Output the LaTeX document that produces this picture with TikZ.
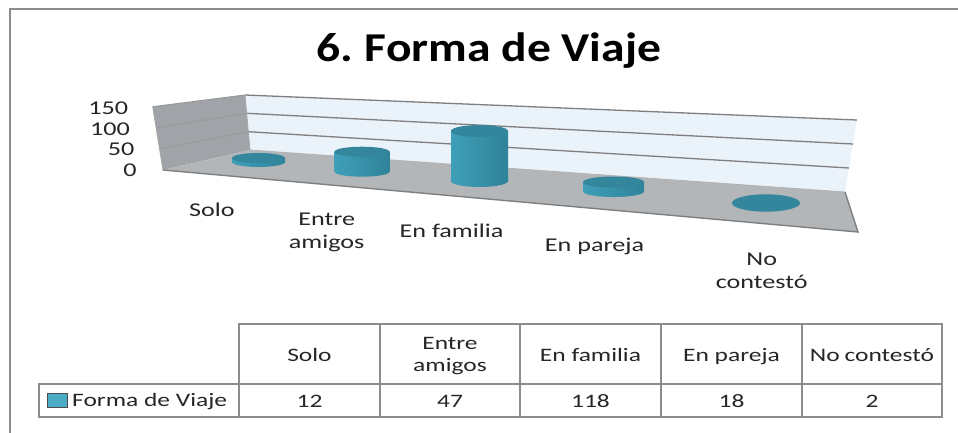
\documentclass[tikz,border=0pt]{standalone}
\usepackage{fontspec}
\setmainfont{Carlito}[FakeStretch=1.34]
\newfontfamily\titlefont{Carlito}[FakeStretch=1.16,BoldFont={Carlito Bold}]
\definecolor{frame}{HTML}{8C8C8C}
\definecolor{gridc}{HTML}{7F7F7F}
\definecolor{sidewall}{HTML}{A0A4A8}
\definecolor{floorc}{HTML}{B3B6B9}
\definecolor{backwall}{HTML}{EAF2FA}
\definecolor{cylleft}{HTML}{3F9FB8}
\definecolor{cyllight}{HTML}{6AD0E8}
\definecolor{cylright}{HTML}{2F8399}
\definecolor{cyltop}{HTML}{33869C}
\definecolor{legfill}{HTML}{4BACC6}
\newcommand\drawcyl[5]{% x, ytop, ybot, rx, ry
  \shade[left color=cylleft, middle color=cyllight, right color=cylright]
    (#1,#3) ellipse ({#4} and {#5});
  \shade[left color=cylleft, middle color=cyllight, right color=cylright]
    ({#1-#4},#2) rectangle ({#1+#4},#3);
  \fill[cyltop] (#1,#2) ellipse ({#4} and {#5});
}
\tikzset{
  lbl/.style={font=\fontsize{19.5}{22}\selectfont, text=black!85, inner sep=0pt, anchor=base, align=center},
  tick/.style={font=\fontsize{19.5}{22}\selectfont, text=black!85, inner sep=0pt, anchor=base east},
  cell/.style={font=\fontsize{19}{22}\selectfont, text=black!85, inner sep=0pt, anchor=base},
  tline/.style={draw=frame, line width=1.8pt},
}
\begin{document}
\begin{tikzpicture}[x=1pt,y=-1pt]
\useasboundingbox (0,0) rectangle (958,432);
\fill[white] (0,0) rectangle (958,432);
% outer frame
\draw[frame, line width=2pt] (10,440) -- (10,9) -- (962,9);
% title
\node[font=\titlefont\bfseries\fontsize{41}{44}\selectfont, anchor=base, inner sep=0pt] (title) at (489,61.7) {6.\hspace{-3pt} Forma de Viaje};
% walls
\fill[sidewall] (152.7,106.7) -- (245,95) -- (250,150) -- (163,170) -- cycle;
\fill[backwall] (245,95) -- (857,120) -- (845,192) -- (250,150) -- cycle;
\fill[floorc] (163,170) -- (250,150) -- (845,192) -- (858,232) -- cycle;
% gridlines
\draw[gridc, line width=1.3pt] (245,95) -- (857,120);
\draw[gridc, line width=1.3pt] (246.7,113.3) -- (853,144);
\draw[gridc, line width=1.3pt] (248.3,131.7) -- (849,168);
\draw[gridc!80, line width=1pt] (152.7,106.7) -- (245,95);
\draw[gridc!80, line width=1pt] (156.1,127.8) -- (246.7,113.3);
\draw[gridc!80, line width=1pt] (159.6,148.9) -- (248.3,131.7);
\draw[gridc!70, line width=0.8pt] (245,95) -- (250,150);
\draw[gridc!60, line width=0.8pt] (250,150) -- (845,192);
\draw[gridc!70, line width=0.8pt] (152.7,106.7) -- (163,170);
\draw[gridc, line width=1.4pt] (163,170) -- (858,232) -- (845,192);
% cylinders
\drawcyl{258.5}{158}{162}{26.5}{5}
\drawcyl{362}{151.7}{171.7}{27.5}{5}
\drawcyl{479.5}{131}{181}{28.5}{6}
\drawcyl{613.5}{182}{191.5}{30.5}{5.5}
\fill[cyltop] (766,203) ellipse (34 and 8.7);
% axis ticks
\node[tick] (t150) at (128.3,114.3) {150};
\node[tick] (t100) at (130,135) {100};
\node[tick] (t50) at (134.5,155.7) {50};
\node[tick] (t0) at (136.7,176.7) {0};
% category labels
\node[lbl] (c1) at (212,216.5) {Solo};
\node[lbl] (c2a) at (326.7,225.7) {Entre};
\node[lbl] (c2b) at (326.7,248.3) {amigos};
\node[lbl] (c3) at (451.5,237.3) {En familia};
\node[lbl] (c4) at (594.5,251.7) {En pareja};
\node[lbl] (c5a) at (761.7,265.7) {No};
\node[lbl] (c5b) at (761.7,288.3) {contestó};
% table
\draw[tline] (239,324) rectangle (942,417);
\draw[tline] (39,384) rectangle (239,417);
\draw[tline] (239,384) -- (942,384);
\foreach \xx in {380,520,661,802} \draw[tline] (\xx,324) -- (\xx,417);
\node[cell] (h1) at (309.5,361) {Solo};
\node[cell] (h2a) at (450,349.3) {Entre};
\node[cell] (h2b) at (450,371) {amigos};
\node[cell] (h3) at (590.5,361) {En familia};
\node[cell] (h4) at (731.5,361) {En pareja};
\node[cell] (h5) at (872,361) {No\hspace{-1pt} contestó};
\node[cell] (v1) at (309.5,407.3) {12};
\node[cell] (v2) at (450,407.3) {47};
\node[cell] (v3) at (590.5,407.3) {118};
\node[cell] (v4) at (731.5,407.3) {18};
\node[cell] (v5) at (872,407.3) {2};
\draw[draw=black!70, fill=legfill, line width=0.8pt] (47.5,393) rectangle (67.5,407);
\node[cell, anchor=base west] (leg) at (72,406) {Forma de Viaje};
\end{tikzpicture}
\end{document}
